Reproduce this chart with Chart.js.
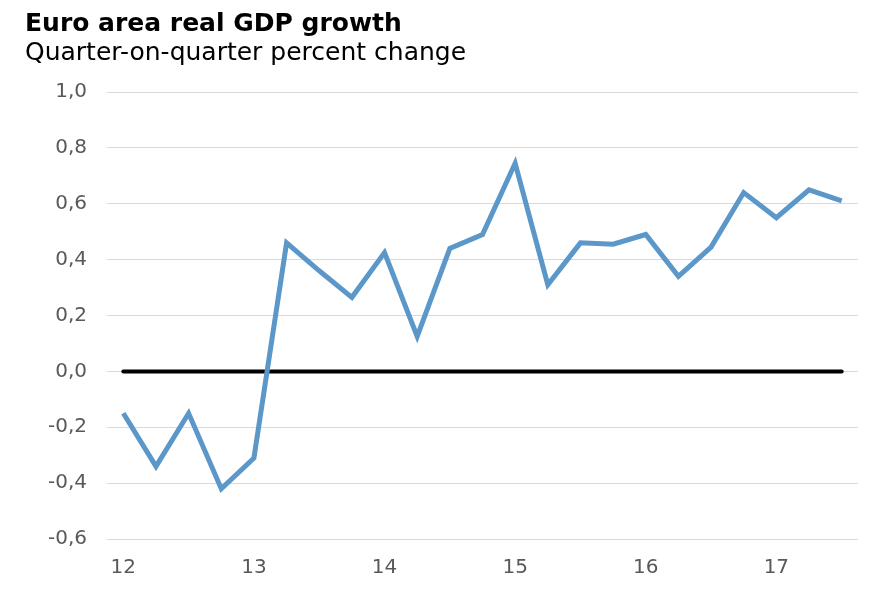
<!DOCTYPE html>
<html>
<head>
<meta charset="utf-8">
<script src="https://cdn.jsdelivr.net/npm/chart.js@4"></script>
<style>
  html, body { margin: 0; padding: 0; background: #fff; }
  #wrap { position: relative; width: 888px; height: 616px; }
  #title, #subtitle { position: absolute; left: 25px; font-family: "DejaVu Sans", Verdana, sans-serif; font-size: 25px; line-height: 1; color: #000; white-space: nowrap; }
  #title { top: 10px; font-weight: bold; }
  #subtitle { top: 39px; }
  canvas { position: absolute; left: 0; top: 0; }
</style>
</head>
<body>
<div id="wrap">
  <canvas id="gdpChart" width="888" height="616"></canvas>
  <div id="title">Euro area real GDP growth</div>
  <div id="subtitle">Quarter-on-quarter percent change</div>
</div>
<script>
// Quarterly data, 2012Q1 - 2017Q3
const quarters = [
    '2012Q1', '2012Q2', '2012Q3', '2012Q4',
    '2013Q1', '2013Q2', '2013Q3', '2013Q4',
    '2014Q1', '2014Q2', '2014Q3', '2014Q4',
    '2015Q1', '2015Q2', '2015Q3', '2015Q4',
    '2016Q1', '2016Q2', '2016Q3', '2016Q4',
    '2017Q1', '2017Q2', '2017Q3'
];
const growth = [
    -0.15, -0.34, -0.15, -0.42,
    -0.31, 0.46, 0.36, 0.265,
    0.425, 0.125, 0.44, 0.49,
    0.745, 0.31, 0.46, 0.455,
    0.49, 0.34, 0.445, 0.64,
    0.55, 0.65, 0.61
];
const zeroLine = [
    0, 0, 0, 0, 0, 0, 0, 0, 0, 0, 0, 0,
    0, 0, 0, 0, 0, 0, 0, 0, 0, 0, 0
];
const yTicks = [-0.6, -0.4, -0.2, 0.0, 0.2, 0.4, 0.6, 0.8, 1.0];

const tickFont = { family: '"DejaVu Sans", Verdana, sans-serif', size: 20 };
const tickColor = '#595959';

const ctx = document.getElementById('gdpChart').getContext('2d');

new Chart(ctx, {
    type: 'line',
    data: {
        labels: quarters,
        datasets: [{
            label: 'Real GDP growth',
            data: growth,
            borderColor: '#5b97c9',
            borderWidth: 5,
            pointRadius: 0,
            tension: 0,
            borderJoinStyle: 'miter',
            order: 1
        }, {
            label: 'Zero',
            data: zeroLine,
            borderColor: '#000',
            borderWidth: 4,
            borderCapStyle: 'round',
            pointRadius: 0,
            tension: 0,
            order: 2
        }]
    },
    options: {
        responsive: false,
        animation: false,
        layout: { padding: { top: 92, right: 30, left: 0, bottom: 0 } },
        plugins: {
            legend: { display: false },
            tooltip: { enabled: false }
        },
        scales: {
            x: {
                type: 'category',
                offset: true,
                grid: { display: false, drawTicks: false },
                border: { display: false },
                afterFit: (scale) => { scale.height = 77; },
                ticks: {
                    color: tickColor,
                    font: tickFont,
                    padding: 17,
                    autoSkip: false,
                    maxRotation: 0,
                    callback: function (val, i) {
                        const q = quarters[i];
                        return q.endsWith('Q1') ? q.slice(2, 4) : '';
                    }
                }
            },
            y: {
                min: -0.6,
                max: 1.0,
                grid: { color: '#d9d9d9', lineWidth: 1, drawTicks: false },
                border: { display: false },
                afterFit: (scale) => { scale.width = 107; },
                afterBuildTicks: (scale) => { scale.ticks = yTicks.map(v => ({ value: v })); },
                ticks: {
                    color: tickColor,
                    font: tickFont,
                    padding: 20,
                    callback: (v) => v.toFixed(1).replace('.', ',')
                }
            }
        }
    }
});
</script>
</body>
</html>
